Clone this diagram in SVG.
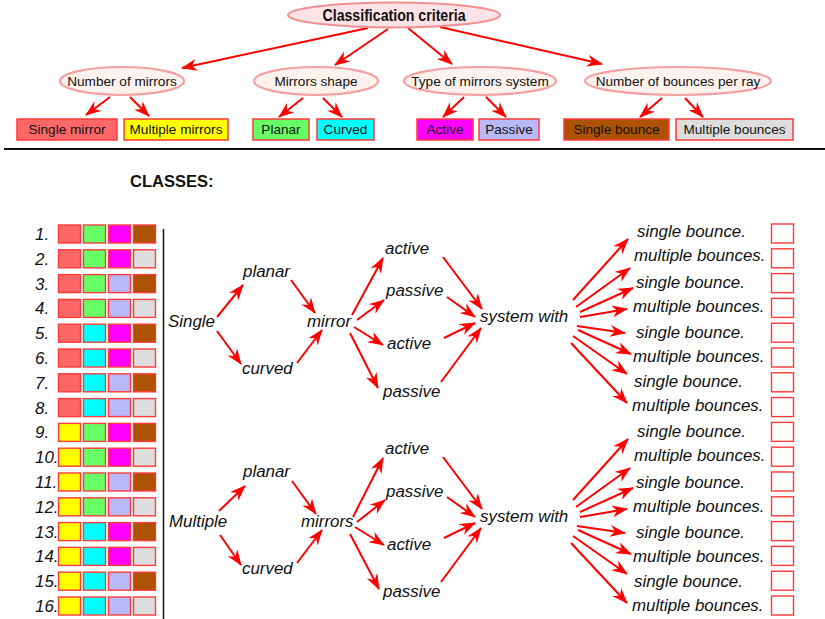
<svg xmlns="http://www.w3.org/2000/svg" width="825" height="619" viewBox="0 0 825 619">
<style>
text{font-family:"Liberation Sans",Arial,sans-serif;fill:#111}
.root{fill:#fde2e6;stroke:#f29090;stroke-width:2}
.crit{fill:#fdf2ee;stroke:#f5a0a0;stroke-width:2.2}
.ct{font-size:13.6px;text-anchor:middle}
.bx{stroke:#ff3a3a;stroke-width:1.5}
.sq{stroke:#ff3a3a;stroke-width:1.4}
.it{font-size:16.9px;font-style:italic}
.cb{fill:#fff;stroke:#ff3a3a;stroke-width:1.4}
.ar{stroke:#ff0000;stroke-width:2;fill:none;marker-end:url(#ah)}
.c1{fill:#ff6666}.cy{fill:#ffff00}.cg{fill:#66ff66}.cc{fill:#00ffff}.cm{fill:#ff00ff}.cl{fill:#b9b9f9}.cbr{fill:#ad5200}.cgr{fill:#dddddd}
</style>
<defs>
<marker id="ah" markerUnits="userSpaceOnUse" markerWidth="16" markerHeight="12" viewBox="0 0 16 12" refX="15" refY="6" orient="auto">
<path d="M0,0 L16,6 L0,12 L5,6 z" fill="#ff0000"/>
</marker>
</defs>

<g id="connectors">
<line class="ar" x1="368" y1="28" x2="182" y2="68"/>
<line class="ar" x1="388" y1="29" x2="335" y2="65"/>
<line class="ar" x1="408" y1="28" x2="452" y2="64"/>
<line class="ar" x1="440" y1="27" x2="602" y2="64"/>
<line class="ar" x1="110" y1="97" x2="86" y2="115"/>
<line class="ar" x1="130" y1="97" x2="149" y2="116"/>
<line class="ar" x1="303" y1="98" x2="279" y2="117"/>
<line class="ar" x1="323" y1="98" x2="342" y2="117"/>
<line class="ar" x1="464" y1="97" x2="443" y2="117"/>
<line class="ar" x1="486" y1="97" x2="506" y2="117"/>
<line class="ar" x1="662" y1="98" x2="640" y2="117"/>
<line class="ar" x1="685" y1="98" x2="703" y2="117"/>
<g id="tree-single-arrows">
<line class="ar" x1="217" y1="317" x2="243" y2="285"/>
<line class="ar" x1="217" y1="331" x2="241" y2="364"/>
<line class="ar" x1="291" y1="280" x2="315" y2="313"/>
<line class="ar" x1="297" y1="363" x2="322" y2="330"/>
<line class="ar" x1="352" y1="315" x2="383" y2="258"/>
<line class="ar" x1="357" y1="320" x2="384" y2="300"/>
<line class="ar" x1="354" y1="327" x2="383" y2="345"/>
<line class="ar" x1="350" y1="333" x2="378" y2="388"/>
<line class="ar" x1="443" y1="257" x2="482" y2="309"/>
<line class="ar" x1="447" y1="297" x2="475" y2="317"/>
<line class="ar" x1="444" y1="338" x2="475" y2="323"/>
<line class="ar" x1="441" y1="382" x2="481" y2="328"/>
<line class="ar" x1="573" y1="300" x2="628" y2="239"/>
<line class="ar" x1="576" y1="307" x2="630" y2="268"/>
<line class="ar" x1="580" y1="312" x2="633" y2="288"/>
<line class="ar" x1="580" y1="317" x2="627" y2="309"/>
<line class="ar" x1="577" y1="326" x2="625" y2="333"/>
<line class="ar" x1="578" y1="330" x2="631" y2="354"/>
<line class="ar" x1="573" y1="336" x2="627" y2="374"/>
<line class="ar" x1="571" y1="343" x2="627" y2="403"/>
</g>
<g id="tree-multiple-arrows" transform="translate(0,200)">
<line class="ar" x1="219" y1="311" x2="245" y2="286"/>
<line class="ar" x1="220" y1="335" x2="241" y2="365"/>
<line class="ar" x1="292" y1="281" x2="316" y2="314"/>
<line class="ar" x1="297" y1="363" x2="322" y2="330"/>
<line class="ar" x1="353" y1="317" x2="383" y2="258"/>
<line class="ar" x1="357" y1="322" x2="385" y2="300"/>
<line class="ar" x1="355" y1="327" x2="384" y2="345"/>
<line class="ar" x1="350" y1="334" x2="379" y2="389"/>
<line class="ar" x1="443" y1="257" x2="482" y2="309"/>
<line class="ar" x1="447" y1="297" x2="475" y2="317"/>
<line class="ar" x1="444" y1="338" x2="475" y2="323"/>
<line class="ar" x1="441" y1="382" x2="481" y2="328"/>
<line class="ar" x1="573" y1="300" x2="628" y2="239"/>
<line class="ar" x1="576" y1="307" x2="630" y2="268"/>
<line class="ar" x1="580" y1="312" x2="633" y2="288"/>
<line class="ar" x1="580" y1="317" x2="627" y2="309"/>
<line class="ar" x1="577" y1="326" x2="625" y2="333"/>
<line class="ar" x1="578" y1="330" x2="631" y2="354"/>
<line class="ar" x1="573" y1="336" x2="627" y2="374"/>
<line class="ar" x1="571" y1="343" x2="627" y2="403"/>
</g>
</g>

<g id="root">
<ellipse class="root" cx="394" cy="15" rx="106" ry="12.5"/>
<text x="394" y="21" font-size="16" font-weight="bold" text-anchor="middle" textLength="143" lengthAdjust="spacingAndGlyphs">Classification criteria</text>
</g>
<g id="crit-mirrors"><ellipse class="crit" cx="122" cy="81" rx="62" ry="14"/><text class="ct" x="122" y="86">Number of mirrors</text></g>
<g id="crit-shape"><ellipse class="crit" cx="316" cy="81" rx="62" ry="14"/><text class="ct" x="316" y="86">Mirrors shape</text></g>
<g id="crit-type"><ellipse class="crit" cx="480" cy="81" rx="76" ry="14"/><text class="ct" x="480" y="86">Type of mirrors system</text></g>
<g id="crit-bounces"><ellipse class="crit" cx="678" cy="81" rx="93" ry="14"/><text class="ct" x="678" y="86">Number of bounces per ray</text></g>

<g id="box-single-mirror"><rect class="bx c1" x="17" y="119" width="100" height="21"/><text class="ct" x="67" y="134">Single mirror</text></g>
<g id="box-multiple-mirrors"><rect class="bx cy" x="124" y="119" width="104" height="21"/><text class="ct" x="176" y="134">Multiple mirrors</text></g>
<g id="box-planar"><rect class="bx cg" x="253" y="119" width="56" height="21"/><text class="ct" x="281" y="134">Planar</text></g>
<g id="box-curved"><rect class="bx cc" x="317" y="119" width="57" height="21"/><text class="ct" x="345.5" y="134">Curved</text></g>
<g id="box-active"><rect class="bx cm" x="417" y="119" width="56" height="21"/><text class="ct" x="445" y="134">Active</text></g>
<g id="box-passive"><rect class="bx cl" x="479" y="119" width="60" height="21"/><text class="ct" x="509" y="134">Passive</text></g>
<g id="box-single-bounce"><rect class="bx cbr" x="564" y="119" width="105" height="21"/><text class="ct" x="616.5" y="134">Single bounce</text></g>
<g id="box-multiple-bounces"><rect class="bx cgr" x="676" y="119" width="117" height="21"/><text class="ct" x="734.5" y="134">Multiple bounces</text></g>

<line x1="4" y1="149" x2="825" y2="149" stroke="#111" stroke-width="2"/>
<text x="130" y="187" font-size="16.5" font-weight="bold">CLASSES:</text>

<g id="classes-table">
<text class="it" x="35" y="240">1.</text>
<text class="it" x="35" y="264.8">2.</text>
<text class="it" x="35" y="289.6">3.</text>
<text class="it" x="35" y="314.4">4.</text>
<text class="it" x="35" y="339.2">5.</text>
<text class="it" x="35" y="364">6.</text>
<text class="it" x="35" y="388.8">7.</text>
<text class="it" x="35" y="413.6">8.</text>
<text class="it" x="35" y="438.4">9.</text>
<text class="it" x="35" y="463.2">10.</text>
<text class="it" x="35" y="488">11.</text>
<text class="it" x="35" y="512.8">12.</text>
<text class="it" x="35" y="537.6">13.</text>
<text class="it" x="35" y="562.4">14.</text>
<text class="it" x="35" y="587.2">15.</text>
<text class="it" x="35" y="612">16.</text>
<g id="row1" transform="translate(0,225)"><rect class="sq c1" x="58.5" y="0" width="22" height="18"/><rect class="sq cg" x="83.5" y="0" width="22" height="18"/><rect class="sq cm" x="108.5" y="0" width="22" height="18"/><rect class="sq cbr" x="133.5" y="0" width="22" height="18"/></g>
<g id="row2" transform="translate(0,249.8)"><rect class="sq c1" x="58.5" y="0" width="22" height="18"/><rect class="sq cg" x="83.5" y="0" width="22" height="18"/><rect class="sq cm" x="108.5" y="0" width="22" height="18"/><rect class="sq cgr" x="133.5" y="0" width="22" height="18"/></g>
<g id="row3" transform="translate(0,274.6)"><rect class="sq c1" x="58.5" y="0" width="22" height="18"/><rect class="sq cg" x="83.5" y="0" width="22" height="18"/><rect class="sq cl" x="108.5" y="0" width="22" height="18"/><rect class="sq cbr" x="133.5" y="0" width="22" height="18"/></g>
<g id="row4" transform="translate(0,299.4)"><rect class="sq c1" x="58.5" y="0" width="22" height="18"/><rect class="sq cg" x="83.5" y="0" width="22" height="18"/><rect class="sq cl" x="108.5" y="0" width="22" height="18"/><rect class="sq cgr" x="133.5" y="0" width="22" height="18"/></g>
<g id="row5" transform="translate(0,324.2)"><rect class="sq c1" x="58.5" y="0" width="22" height="18"/><rect class="sq cc" x="83.5" y="0" width="22" height="18"/><rect class="sq cm" x="108.5" y="0" width="22" height="18"/><rect class="sq cbr" x="133.5" y="0" width="22" height="18"/></g>
<g id="row6" transform="translate(0,349)"><rect class="sq c1" x="58.5" y="0" width="22" height="18"/><rect class="sq cc" x="83.5" y="0" width="22" height="18"/><rect class="sq cm" x="108.5" y="0" width="22" height="18"/><rect class="sq cgr" x="133.5" y="0" width="22" height="18"/></g>
<g id="row7" transform="translate(0,373.8)"><rect class="sq c1" x="58.5" y="0" width="22" height="18"/><rect class="sq cc" x="83.5" y="0" width="22" height="18"/><rect class="sq cl" x="108.5" y="0" width="22" height="18"/><rect class="sq cbr" x="133.5" y="0" width="22" height="18"/></g>
<g id="row8" transform="translate(0,398.6)"><rect class="sq c1" x="58.5" y="0" width="22" height="18"/><rect class="sq cc" x="83.5" y="0" width="22" height="18"/><rect class="sq cl" x="108.5" y="0" width="22" height="18"/><rect class="sq cgr" x="133.5" y="0" width="22" height="18"/></g>
<g id="row9" transform="translate(0,423.4)"><rect class="sq cy" x="58.5" y="0" width="22" height="18"/><rect class="sq cg" x="83.5" y="0" width="22" height="18"/><rect class="sq cm" x="108.5" y="0" width="22" height="18"/><rect class="sq cbr" x="133.5" y="0" width="22" height="18"/></g>
<g id="row10" transform="translate(0,448.2)"><rect class="sq cy" x="58.5" y="0" width="22" height="18"/><rect class="sq cg" x="83.5" y="0" width="22" height="18"/><rect class="sq cm" x="108.5" y="0" width="22" height="18"/><rect class="sq cgr" x="133.5" y="0" width="22" height="18"/></g>
<g id="row11" transform="translate(0,473)"><rect class="sq cy" x="58.5" y="0" width="22" height="18"/><rect class="sq cg" x="83.5" y="0" width="22" height="18"/><rect class="sq cl" x="108.5" y="0" width="22" height="18"/><rect class="sq cbr" x="133.5" y="0" width="22" height="18"/></g>
<g id="row12" transform="translate(0,497.8)"><rect class="sq cy" x="58.5" y="0" width="22" height="18"/><rect class="sq cg" x="83.5" y="0" width="22" height="18"/><rect class="sq cl" x="108.5" y="0" width="22" height="18"/><rect class="sq cgr" x="133.5" y="0" width="22" height="18"/></g>
<g id="row13" transform="translate(0,522.6)"><rect class="sq cy" x="58.5" y="0" width="22" height="18"/><rect class="sq cc" x="83.5" y="0" width="22" height="18"/><rect class="sq cm" x="108.5" y="0" width="22" height="18"/><rect class="sq cbr" x="133.5" y="0" width="22" height="18"/></g>
<g id="row14" transform="translate(0,547.4)"><rect class="sq cy" x="58.5" y="0" width="22" height="18"/><rect class="sq cc" x="83.5" y="0" width="22" height="18"/><rect class="sq cm" x="108.5" y="0" width="22" height="18"/><rect class="sq cgr" x="133.5" y="0" width="22" height="18"/></g>
<g id="row15" transform="translate(0,572.2)"><rect class="sq cy" x="58.5" y="0" width="22" height="18"/><rect class="sq cc" x="83.5" y="0" width="22" height="18"/><rect class="sq cl" x="108.5" y="0" width="22" height="18"/><rect class="sq cbr" x="133.5" y="0" width="22" height="18"/></g>
<g id="row16" transform="translate(0,597)"><rect class="sq cy" x="58.5" y="0" width="22" height="18"/><rect class="sq cc" x="83.5" y="0" width="22" height="18"/><rect class="sq cl" x="108.5" y="0" width="22" height="18"/><rect class="sq cgr" x="133.5" y="0" width="22" height="18"/></g>
</g>
<line x1="163.5" y1="229" x2="163.5" y2="619" stroke="#111" stroke-width="1.5"/>

<g id="tree-single">
<g id="n-single"><text class="it" x="168" y="327">Single</text></g>
<g id="n-planar1"><text class="it" x="243" y="277">planar</text></g>
<g id="n-curved1"><text class="it" x="242" y="374">curved</text></g>
<g id="n-mirror"><text class="it" x="307" y="327">mirror</text></g>
<g id="n-active1a"><text class="it" x="385" y="254">active</text></g>
<g id="n-passive1a"><text class="it" x="386" y="296">passive</text></g>
<g id="n-active1b"><text class="it" x="387" y="349">active</text></g>
<g id="n-passive1b"><text class="it" x="383" y="397">passive</text></g>
<g id="n-system1"><text class="it" x="480" y="322">system with</text></g>
</g>
<g id="tree-multiple">
<g id="n-multiple"><text class="it" x="169" y="527">Multiple</text></g>
<g id="n-planar2"><text class="it" x="243" y="477">planar</text></g>
<g id="n-curved2"><text class="it" x="242" y="574">curved</text></g>
<g id="n-mirrors"><text class="it" x="301" y="527">mirrors</text></g>
<g id="n-active2a"><text class="it" x="385" y="454">active</text></g>
<g id="n-passive2a"><text class="it" x="386" y="497">passive</text></g>
<g id="n-active2b"><text class="it" x="387" y="550">active</text></g>
<g id="n-passive2b"><text class="it" x="383" y="597">passive</text></g>
<g id="n-system2"><text class="it" x="480" y="522">system with</text></g>
</g>

<g id="results">
<text class="it" x="637" y="237">single bounce.</text>
<text class="it" x="634" y="261">multiple bounces.</text>
<text class="it" x="636" y="288">single bounce.</text>
<text class="it" x="633" y="312">multiple bounces.</text>
<text class="it" x="636" y="338">single bounce.</text>
<text class="it" x="633" y="362">multiple bounces.</text>
<text class="it" x="634" y="387">single bounce.</text>
<text class="it" x="632" y="411">multiple bounces.</text>
<text class="it" x="637" y="437">single bounce.</text>
<text class="it" x="634" y="461">multiple bounces.</text>
<text class="it" x="636" y="488">single bounce.</text>
<text class="it" x="633" y="512">multiple bounces.</text>
<text class="it" x="636" y="538">single bounce.</text>
<text class="it" x="633" y="562">multiple bounces.</text>
<text class="it" x="634" y="587">single bounce.</text>
<text class="it" x="632" y="611">multiple bounces.</text>
</g>
<g id="checkboxes">
<rect class="cb" x="771.5" y="224" width="22" height="19"/>
<rect class="cb" x="771.5" y="248.8" width="22" height="19"/>
<rect class="cb" x="771.5" y="273.6" width="22" height="19"/>
<rect class="cb" x="771.5" y="298.4" width="22" height="19"/>
<rect class="cb" x="771.5" y="323.2" width="22" height="19"/>
<rect class="cb" x="771.5" y="348" width="22" height="19"/>
<rect class="cb" x="771.5" y="372.8" width="22" height="19"/>
<rect class="cb" x="771.5" y="397.6" width="22" height="19"/>
<rect class="cb" x="771.5" y="422.4" width="22" height="19"/>
<rect class="cb" x="771.5" y="447.2" width="22" height="19"/>
<rect class="cb" x="771.5" y="472" width="22" height="19"/>
<rect class="cb" x="771.5" y="496.8" width="22" height="19"/>
<rect class="cb" x="771.5" y="521.6" width="22" height="19"/>
<rect class="cb" x="771.5" y="546.4" width="22" height="19"/>
<rect class="cb" x="771.5" y="571.2" width="22" height="19"/>
<rect class="cb" x="771.5" y="596" width="22" height="19"/>
</g>
</svg>
